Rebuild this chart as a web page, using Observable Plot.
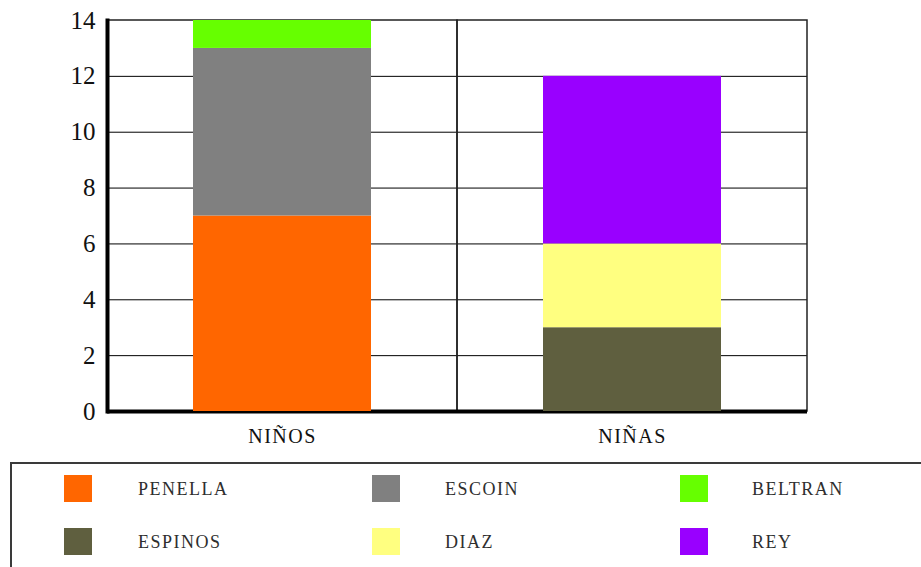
<!DOCTYPE html>
<html>
<head>
<meta charset="utf-8">
<script src="https://cdn.jsdelivr.net/npm/d3@7"></script>
<script src="https://cdn.jsdelivr.net/npm/@observablehq/plot@0.6"></script>
<style>
  html, body { margin: 0; padding: 0; background: #fff; }
  #page { position: relative; width: 921px; height: 567px; overflow: hidden; }
  #chart { position: absolute; left: 0; top: 0; }
  #legend {
    position: absolute; left: 10px; top: 462px; width: 1000px; height: 200px;
    border: 2px solid #3a3a3a; box-sizing: border-box;
  }
  .sw { position: absolute; width: 28px; height: 27px; }
  .lab {
    position: absolute; font-family: "Liberation Serif", serif; font-size: 18px;
    letter-spacing: 1.5px; color: #2e2e2e; line-height: 20px; white-space: nowrap;
  }
</style>
</head>
<body>
<div id="page">
  <div id="chart"></div>
  <div id="legend"></div>
</div>
<script>
// Groups on the x axis and the surnames stacked in each bar
const groups = ["NIÑOS", "NIÑAS"];
const names = ["PENELLA", "ESCOIN", "BELTRAN", "ESPINOS", "DIAZ", "REY"];
const groupOf = ["NIÑOS", "NIÑOS", "NIÑOS", "NIÑAS", "NIÑAS", "NIÑAS"];
const counts = [7, 6, 1, 3, 3, 6];
const colors = ["#ff6600", "#808080", "#66ff00", "#5f5f3f", "#ffff80", "#9900ff"];
const yTicks = [0, 2, 4, 6, 8, 10, 12, 14];
const gridTicks = [2, 4, 6, 8, 10, 12];

const data = names.map((name, i) => ({name, group: groupOf[i], count: counts[i]}));

const serif = "'Liberation Serif', serif";

const chart = Plot.plot({
  width: 921,
  height: 450,
  marginLeft: 107,
  marginRight: 114,
  marginTop: 20,
  marginBottom: 39,
  x: {domain: groups, padding: 0},
  y: {domain: [0, 14]},
  color: {domain: names, range: colors},
  style: {fontFamily: serif, color: "#111", background: "#fff"},
  marks: [
    Plot.ruleY(gridTicks, {stroke: "#000", strokeWidth: 1}),
    // one outlined cell per group: gives the top border, the divider and the right edge
    Plot.barY(groups, {x: d => d, y1: 0, y2: 14, fill: "none", stroke: "#222", strokeWidth: 1.5}),
    Plot.frame({anchor: "left", stroke: "#000", strokeWidth: 4}),
    Plot.ruleY([0], {stroke: "#000", strokeWidth: 4}),
    Plot.barY(data, Plot.stackY({
      x: "group", y: "count", fill: "name", order: null,
      insetLeft: 86, insetRight: 86
    })),
    Plot.axisY({ticks: yTicks, tickSize: 0, tickPadding: 12, fontSize: 25, fontFamily: serif, label: null}),
    Plot.axisX({tickSize: 0, tickPadding: 17, fontSize: 20, fontFamily: serif, label: null})
  ]
});
d3.select(chart).selectAll("g[aria-label='x-axis tick label'] text").attr("letter-spacing", "1.5px");
document.getElementById("chart").appendChild(chart);

// Legend: three columns, two rows
const legend = d3.select("#legend");
names.forEach((name, i) => {
  const col = i % 3, row = Math.floor(i / 3);
  legend.append("div").attr("class", "sw")
    .style("left", (52 + col * 308) + "px").style("top", (11 + row * 53) + "px")
    .style("background", colors[i]);
  legend.append("div").attr("class", "lab")
    .style("left", (126 + col * 307) + "px").style("top", (15 + row * 53) + "px")
    .text(name);
});
</script>
</body>
</html>
